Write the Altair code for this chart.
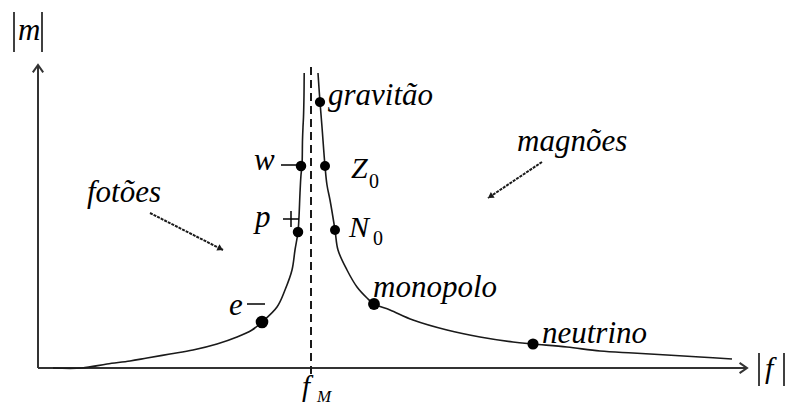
import altair as alt
import pandas as pd

# Coordinates: x = |f| axis units, y = |m| axis units, origin at the axes' corner.
XD = [-38, 748]
YD = [-38, 368]

# Mass curve, two branches on either side of f_M
left_x = [15, 44, 69, 92, 109, 132, 155, 179, 199, 214, 224, 239, 247, 254, 257, 260,
          261, 262, 263, 264, 264.5, 265, 265.5, 266, 266.2]
left_y = [0, 0, 4, 7, 10, 14, 18, 24, 31, 38, 46, 61, 78, 98, 118, 136,
          151, 175, 193, 202, 228, 241, 251, 273, 295]
right_x = [280, 281, 282, 284, 287, 289, 292, 297, 300, 309, 319, 329, 336, 352, 375,
           409, 442, 475, 495, 529, 562, 595, 629, 662, 694]
right_y = [295, 280, 266, 241, 202, 183, 168, 138, 118, 98, 81, 70, 64, 58, 48,
           38, 31, 26, 24, 21, 17, 15, 13, 11, 9]

# Particles on the curve
part_names = ["e-", "p+", "w-", "gravitão", "Z0", "N0", "monopolo", "neutrino"]
part_x = [224, 260, 263, 282, 287, 297, 336, 495]
part_y = [46, 136, 202, 266, 202, 138, 64, 24]
part_size = [160, 110, 110, 105, 100, 100, 140, 125]

# f_M position
f_m = 273

# Italic labels (baseline-left positions)
lab_text = ["gravitão", "magnões", "fotões", "monopolo", "neutrino", "w", "p", "e",
            "Z", "N", "m", "f", "f", "M"]
lab_x = [290, 479, 49, 335, 504, 216, 217, 191, 313, 311, -20, 727, 264, 279]
lab_y = [263, 217, 166, 71, 25, 198, 141, 53, 190, 131, 328, -10, -28, -34]
lab_fs = [31, 31, 31, 31, 31, 31, 31, 31, 30, 30, 31, 30, 29, 17]

# Upright subscripts
sub_text = ["0", "0"]
sub_x = [331, 335]
sub_y = [180, 123]
sub_fs = [20, 20]

# Short strokes: minus signs, the plus sign and the |.| bars
seg_x = [243, 209, 245, 253, -24, 4, 721, 746]
seg_x2 = [263, 227, 261, 253, -24, 4, 721, 746]
seg_y = [203, 64, 149, 157, 356, 356, 15, 15]
seg_y2 = [203, 64, 149, 141, 316, 316, -18, -18]

# Pointer arrows for the two regions
ptr_x = [112, 504]
ptr_y = [155, 206]
ptr_x2 = [185, 450]
ptr_y2 = [118, 170]


def X(f):
    return alt.X(f"{f}:Q", scale=alt.Scale(domain=XD, nice=False, zero=False), axis=None)


def Y(f):
    return alt.Y(f"{f}:Q", scale=alt.Scale(domain=YD, nice=False, zero=False), axis=None)


INK = "#1a1a1a"
FONT = "Liberation Serif"

curve_df = pd.DataFrame({
    "x": left_x + right_x,
    "y": left_y + right_y,
    "branch": ["left"] * len(left_x) + ["right"] * len(right_x),
    "i": list(range(len(left_x))) + list(range(len(right_x))),
})
curve = alt.Chart(curve_df).mark_line(
    interpolate="catmull-rom", color=INK, strokeWidth=1.6
).encode(x=X("x"), y=Y("y"), detail="branch:N", order="i:Q")

axes_df = pd.DataFrame({"x": [0, 0], "y": [0, 0], "x2": [0, 708], "y2": [302, 0]})
axes = alt.Chart(axes_df).mark_rule(color="#333333", strokeWidth=2).encode(
    x=X("x"), y=Y("y"), x2="x2:Q", y2="y2:Q")

axis_heads_df = pd.DataFrame({"x": [0, 709], "y": [303, 0], "angle": [270, 0]})
axis_heads = alt.Chart(axis_heads_df).mark_point(
    shape="M-1,-0.7L0,0L-1,0.7", filled=False, color="#333333",
    strokeWidth=2, size=220, opacity=1
).encode(x=X("x"), y=Y("y"), angle=alt.Angle("angle:Q", scale=None))

fm_df = pd.DataFrame({"x": [f_m], "y": [301], "y2": [-10]})
fm_line = alt.Chart(fm_df).mark_rule(
    color=INK, strokeWidth=2, strokeDash=[8, 5]
).encode(x=X("x"), y=Y("y"), y2="y2:Q")

ptr_df = pd.DataFrame({"x": ptr_x, "y": ptr_y, "x2": ptr_x2, "y2": ptr_y2})
pointers = alt.Chart(ptr_df).mark_rule(
    color=INK, strokeWidth=2, strokeDash=[3, 1]
).encode(x=X("x"), y=Y("y"), x2="x2:Q", y2="y2:Q")

head_df = pd.DataFrame({"x": ptr_x2, "y": ptr_y2, "angle": [26.9, 146.3]})
ptr_heads = alt.Chart(head_df).mark_point(
    shape="M-1,-0.6L0,0L-1,0.6Z", filled=True, color=INK, size=130, opacity=1
).encode(x=X("x"), y=Y("y"), angle=alt.Angle("angle:Q", scale=None))

dots_df = pd.DataFrame({"name": part_names, "x": part_x, "y": part_y, "s": part_size})
dots = alt.Chart(dots_df).mark_point(
    shape="circle", filled=True, color="#000000", opacity=1
).encode(x=X("x"), y=Y("y"), size=alt.Size("s:Q", scale=None))

seg_df = pd.DataFrame({"x": seg_x, "y": seg_y, "x2": seg_x2, "y2": seg_y2})
segs = alt.Chart(seg_df).mark_rule(color="#000000", strokeWidth=1.5).encode(
    x=X("x"), y=Y("y"), x2="x2:Q", y2="y2:Q")

lab_df = pd.DataFrame({"t": lab_text, "x": lab_x, "y": lab_y, "fs": lab_fs})
labels = alt.Chart(lab_df).mark_text(
    font=FONT, fontStyle="italic", align="left", baseline="alphabetic", color="#000000"
).encode(x=X("x"), y=Y("y"), text="t:N", size=alt.Size("fs:Q", scale=None))

sub_df = pd.DataFrame({"t": sub_text, "x": sub_x, "y": sub_y, "fs": sub_fs})
subs = alt.Chart(sub_df).mark_text(
    font=FONT, align="left", baseline="alphabetic", color="#000000"
).encode(x=X("x"), y=Y("y"), text="t:N", size=alt.Size("fs:Q", scale=None))

chart = alt.layer(
    axes, axis_heads, fm_line, curve, pointers, ptr_heads, dots, segs, labels, subs
).properties(
    width=786, height=406, padding=0,
    autosize=alt.AutoSizeParams(type="none"), background="white"
).configure_view(stroke=None)

chart.save("out.html", embed_options={"renderer": "svg", "actions": False})
